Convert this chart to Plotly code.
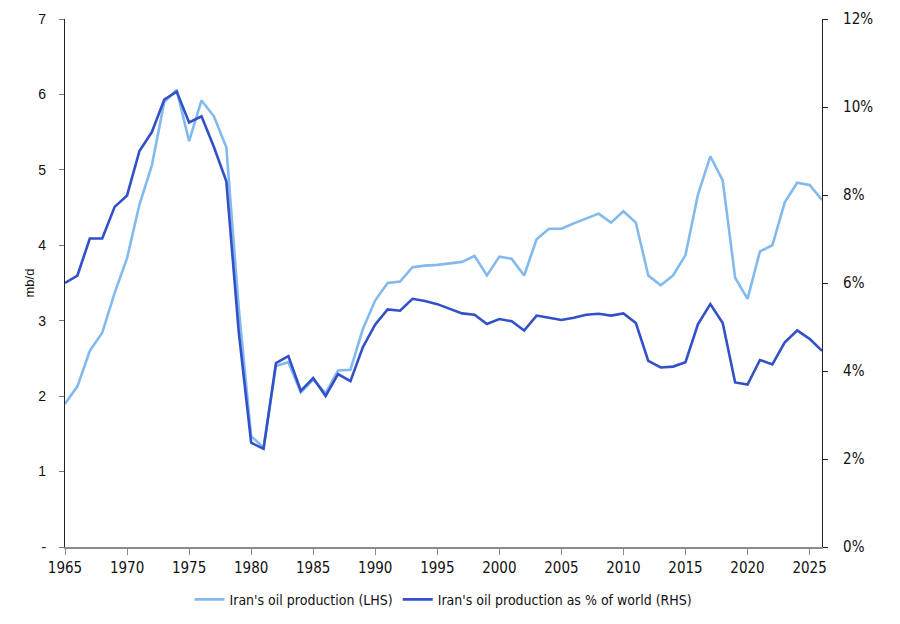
import plotly.graph_objects as go

years = list(range(1965, 2027))

production_mbd = [
    1.90, 2.13, 2.60, 2.84, 3.37, 3.83, 4.54, 5.06, 5.90, 6.06,
    5.38, 5.92, 5.71, 5.30, 3.17, 1.47, 1.32, 2.40, 2.45, 2.05,
    2.22, 2.04, 2.34, 2.35, 2.89, 3.27, 3.50, 3.52, 3.71, 3.73,
    3.74, 3.76, 3.78, 3.86, 3.60, 3.85, 3.82, 3.60, 4.08, 4.22,
    4.22, 4.29, 4.36, 4.42, 4.30, 4.45, 4.30, 3.60, 3.47, 3.60,
    3.87, 4.67, 5.18, 4.86, 3.57, 3.29, 3.92, 4.00, 4.57, 4.83,
    4.80, 4.60,
]

share_of_world_pct = [
    6.00, 6.17, 7.01, 7.01, 7.73, 7.99, 9.00, 9.43, 10.17, 10.35,
    9.65, 9.79, 9.09, 8.31, 4.89, 2.37, 2.23, 4.18, 4.34, 3.55,
    3.84, 3.43, 3.93, 3.77, 4.54, 5.06, 5.40, 5.37, 5.64, 5.59,
    5.52, 5.42, 5.31, 5.28, 5.07, 5.18, 5.13, 4.92, 5.26, 5.21,
    5.16, 5.21, 5.28, 5.30, 5.26, 5.31, 5.09, 4.23, 4.08, 4.10,
    4.20, 5.06, 5.52, 5.09, 3.74, 3.69, 4.25, 4.15, 4.65, 4.92,
    4.73, 4.46,
]

x_ticks = list(range(1965, 2026, 5))
left_ticks = [0, 1, 2, 3, 4, 5, 6, 7]
left_labels = ["-", "1", "2", "3", "4", "5", "6", "7"]
right_ticks = [0, 2, 4, 6, 8, 10, 12]
right_labels = [f"{v}%" for v in right_ticks]

LIGHT = "#82BAEE"
DARK = "#3250C8"
FONT = "DejaVu Sans Condensed, Liberation Sans Narrow, Arial Narrow, Liberation Sans, Arial, sans-serif"
REG = "Liberation Sans, Arial, sans-serif"

fig = go.Figure()
fig.add_trace(go.Scatter(
    x=years, y=production_mbd, mode="lines",
    name="Iran's oil production (LHS)",
    line=dict(color=LIGHT, width=2.6),
    yaxis="y",
))
fig.add_trace(go.Scatter(
    x=years, y=share_of_world_pct, mode="lines",
    name="Iran's oil production as % of world (RHS)",
    line=dict(color=DARK, width=2.6),
    yaxis="y2",
))

fig.update_layout(
    width=900, height=624,
    margin=dict(l=57, r=86, t=11, b=85, autoexpand=False),
    paper_bgcolor="white", plot_bgcolor="white",
    font=dict(family=FONT, size=14, color="#111111"),
    showlegend=True,
    legend=dict(
        orientation="h", x=0.5, xanchor="center", y=-0.1, yanchor="middle",
        font=dict(family=FONT, size=14, color="#111111"),
        itemwidth=30, tracegroupgap=0,
    ),
    xaxis=dict(
        range=[1965, 2026], tickmode="array", tickvals=x_ticks,
        ticktext=[str(v) for v in x_ticks],
        showgrid=False, zeroline=False, automargin=False,
        showline=True, linecolor="#8a8a8a", linewidth=1.5,
        ticks="outside", ticklen=6, tickcolor="#8a8a8a",
        tickfont=dict(family=FONT, size=15),
    ),
    yaxis=dict(
        range=[0, 7], tickmode="array", tickvals=left_ticks, ticktext=left_labels,
        showgrid=False, zeroline=False, automargin=False,
        showline=True, linecolor="#222222", linewidth=1.2,
        ticks="outside", ticklen=5, tickcolor="#777777",
        ticklabelstandoff=10,
        tickfont=dict(family=REG, size=14),
        title=dict(text="mb/d", font=dict(family=REG, size=13), standoff=0),
    ),
    yaxis2=dict(
        range=[0, 12], overlaying="y", side="right", automargin=False,
        tickmode="array", tickvals=right_ticks, ticktext=right_labels,
        showgrid=False, zeroline=False,
        showline=True, linecolor="#222222", linewidth=1.2,
        ticks="outside", ticklen=5, tickcolor="#222222",
        ticklabelstandoff=12,
        tickfont=dict(family=FONT, size=15),
    ),
)

fig.write_html("out.html")
